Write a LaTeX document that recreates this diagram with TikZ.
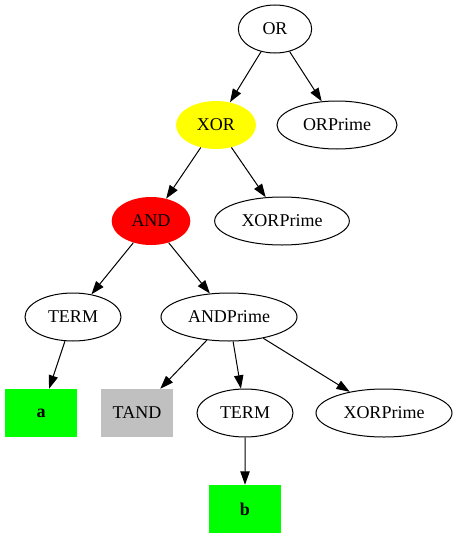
\documentclass[tikz,border=0pt]{standalone}
\usepackage{fontspec}
\setmainfont{Liberation Serif}
\usetikzlibrary{shapes.geometric, arrows.meta}

\tikzset{
  ell/.style={ellipse, draw, line width=0.75pt, minimum height=36pt, inner sep=0pt,
    font=\fontsize{13.5}{16}\selectfont},
  filled/.style={ellipse, fill=#1, minimum height=36pt, inner sep=0pt,
    font=\fontsize{13.5}{16}\selectfont},
  tok/.style={rectangle, fill=#1, minimum width=54pt, minimum height=36pt,
    inner sep=0pt, font=\fontsize{13.5}{16}\selectfont},
  edge/.style={-{Triangle[length=10pt,width=7pt]}, line width=0.75pt}
}
\definecolor{gvgreen}{RGB}{0,255,0}
\definecolor{gvgray}{RGB}{192,192,192}
\definecolor{gvyellow}{RGB}{255,255,0}
\definecolor{gvred}{RGB}{255,0,0}

\begin{document}
\begin{tikzpicture}[x=1pt, y=-1pt, scale=0.75]
        \useasboundingbox (0,0) rectangle (456,539);

        % nos
        \node[ell, minimum width=55pt] (or) at (275,29) {OR};
        \node[filled=gvyellow, minimum width=60pt] (xor) at (216,125) {XOR};
        \node[ell, minimum width=90pt] (orprime) at (337,125) {ORPrime};
        \node[filled=gvred, minimum width=59pt] (and) at (151,221) {AND};
        \node[ell, minimum width=101pt] (xorprime) at (282,221) {XORPrime};
        \node[ell, minimum width=72pt] (term) at (73,317) {TERM};
        \node[ell, minimum width=102pt] (andprime) at (229,317) {ANDPrime};
        \node[tok=gvgreen] (a) at (41,413) {\bfseries a};
        \node[tok=gvgray] (tand) at (137,413) {TAND};
        \node[ell, minimum width=72pt] (term2) at (245,413) {TERM};
        \node[ell, minimum width=102pt] (xorprime2) at (384,413) {XORPrime};
        \node[tok=gvgreen] (b) at (245,509) {\bfseries b};

        % arestas
        \foreach \u/\v in {or/xor, or/orprime, xor/and, xor/xorprime,
        and/term, and/andprime, term/a, andprime/tand, andprime/term2,
        andprime/xorprime2, term2/b}
        \draw[edge] (\u) -- (\v);
    \end{tikzpicture}
\end{document}
